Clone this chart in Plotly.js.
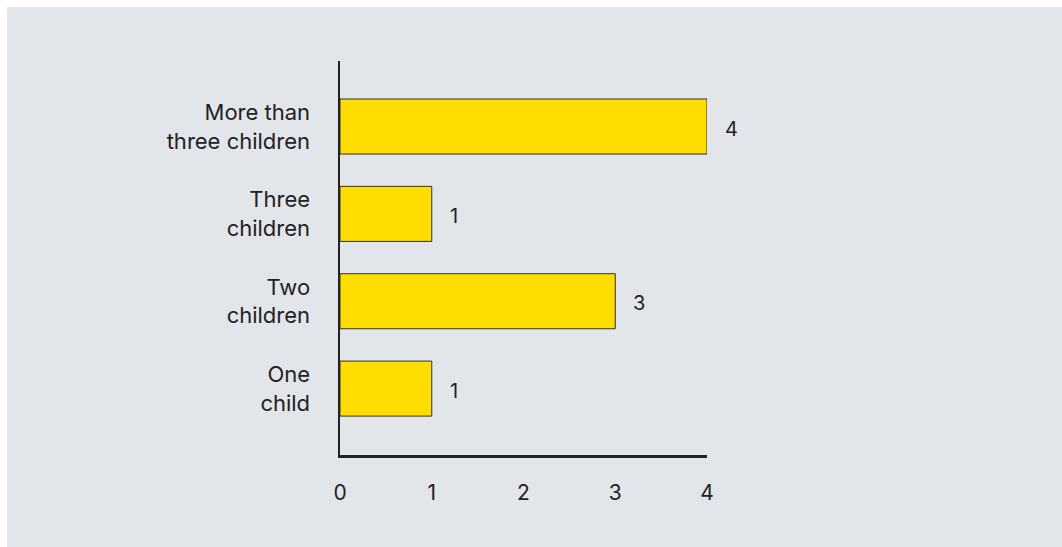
<!DOCTYPE html>
<html>
<head>
<meta charset="utf-8">
<script src="https://cdn.plot.ly/plotly-3.0.1.min.js"></script>
<style>
html,body{margin:0;padding:0;background:#ffffff;width:1062px;height:547px;overflow:hidden;}
#chart{position:absolute;left:7px;top:7px;width:1055px;height:540px;}
</style>
</head>
<body>
<div id="chart"></div>
<script>
const categories = ["One<br>child", "Two<br>children", "Three<br>children", "More than<br>three children"];
const counts = [1, 3, 1, 4];
const xTicks = [0, 1, 2, 3, 4];

const fontFamily = "Inter, 'Noto Sans', sans-serif";
const textColor = "#222222";

const trace = {
  type: "bar",
  orientation: "h",
  y: categories,
  x: counts,
  width: 0.63,
  marker: {color: "#ffdd00", line: {color: "#333333", width: 1}},
  hoverinfo: "none"
};

const annotations = counts.map((v, i) => ({
  x: v, y: categories[i], xref: "x", yref: "y",
  text: String(v), showarrow: false,
  xanchor: "left", yanchor: "middle", xshift: 16, yshift: -2,
  font: {family: fontFamily, size: 20, color: textColor}
}));

const layout = {
  width: 1055, height: 540,
  paper_bgcolor: "#e2e5ea",
  plot_bgcolor: "#e2e5ea",
  margin: {l: 333, r: 355, t: 54, b: 92},
  showlegend: false,
  font: {family: fontFamily, size: 22, color: textColor},
  xaxis: {
    range: [0, 4],
    tickvals: xTicks,
    ticktext: xTicks.map(String),
    showgrid: false, zeroline: false,
    showline: true, linecolor: "#222222", linewidth: 2.5,
    ticks: "outside", ticklen: 17, tickcolor: "rgba(0,0,0,0)",
    tickfont: {family: fontFamily, size: 21, color: textColor},
    fixedrange: true
  },
  yaxis: {
    type: "category",
    categoryorder: "array", categoryarray: categories,
    range: [-0.76, 3.75],
    showgrid: false, zeroline: false,
    showline: true, linecolor: "#222222", linewidth: 2.5,
    ticks: "outside", ticklen: 23, tickcolor: "rgba(0,0,0,0)",
    tickfont: {family: fontFamily, size: 22, color: textColor},
    fixedrange: true
  },
  annotations: annotations
};

Plotly.newPlot("chart", [trace], layout, {displayModeBar: false, staticPlot: true});
</script>
</body>
</html>
